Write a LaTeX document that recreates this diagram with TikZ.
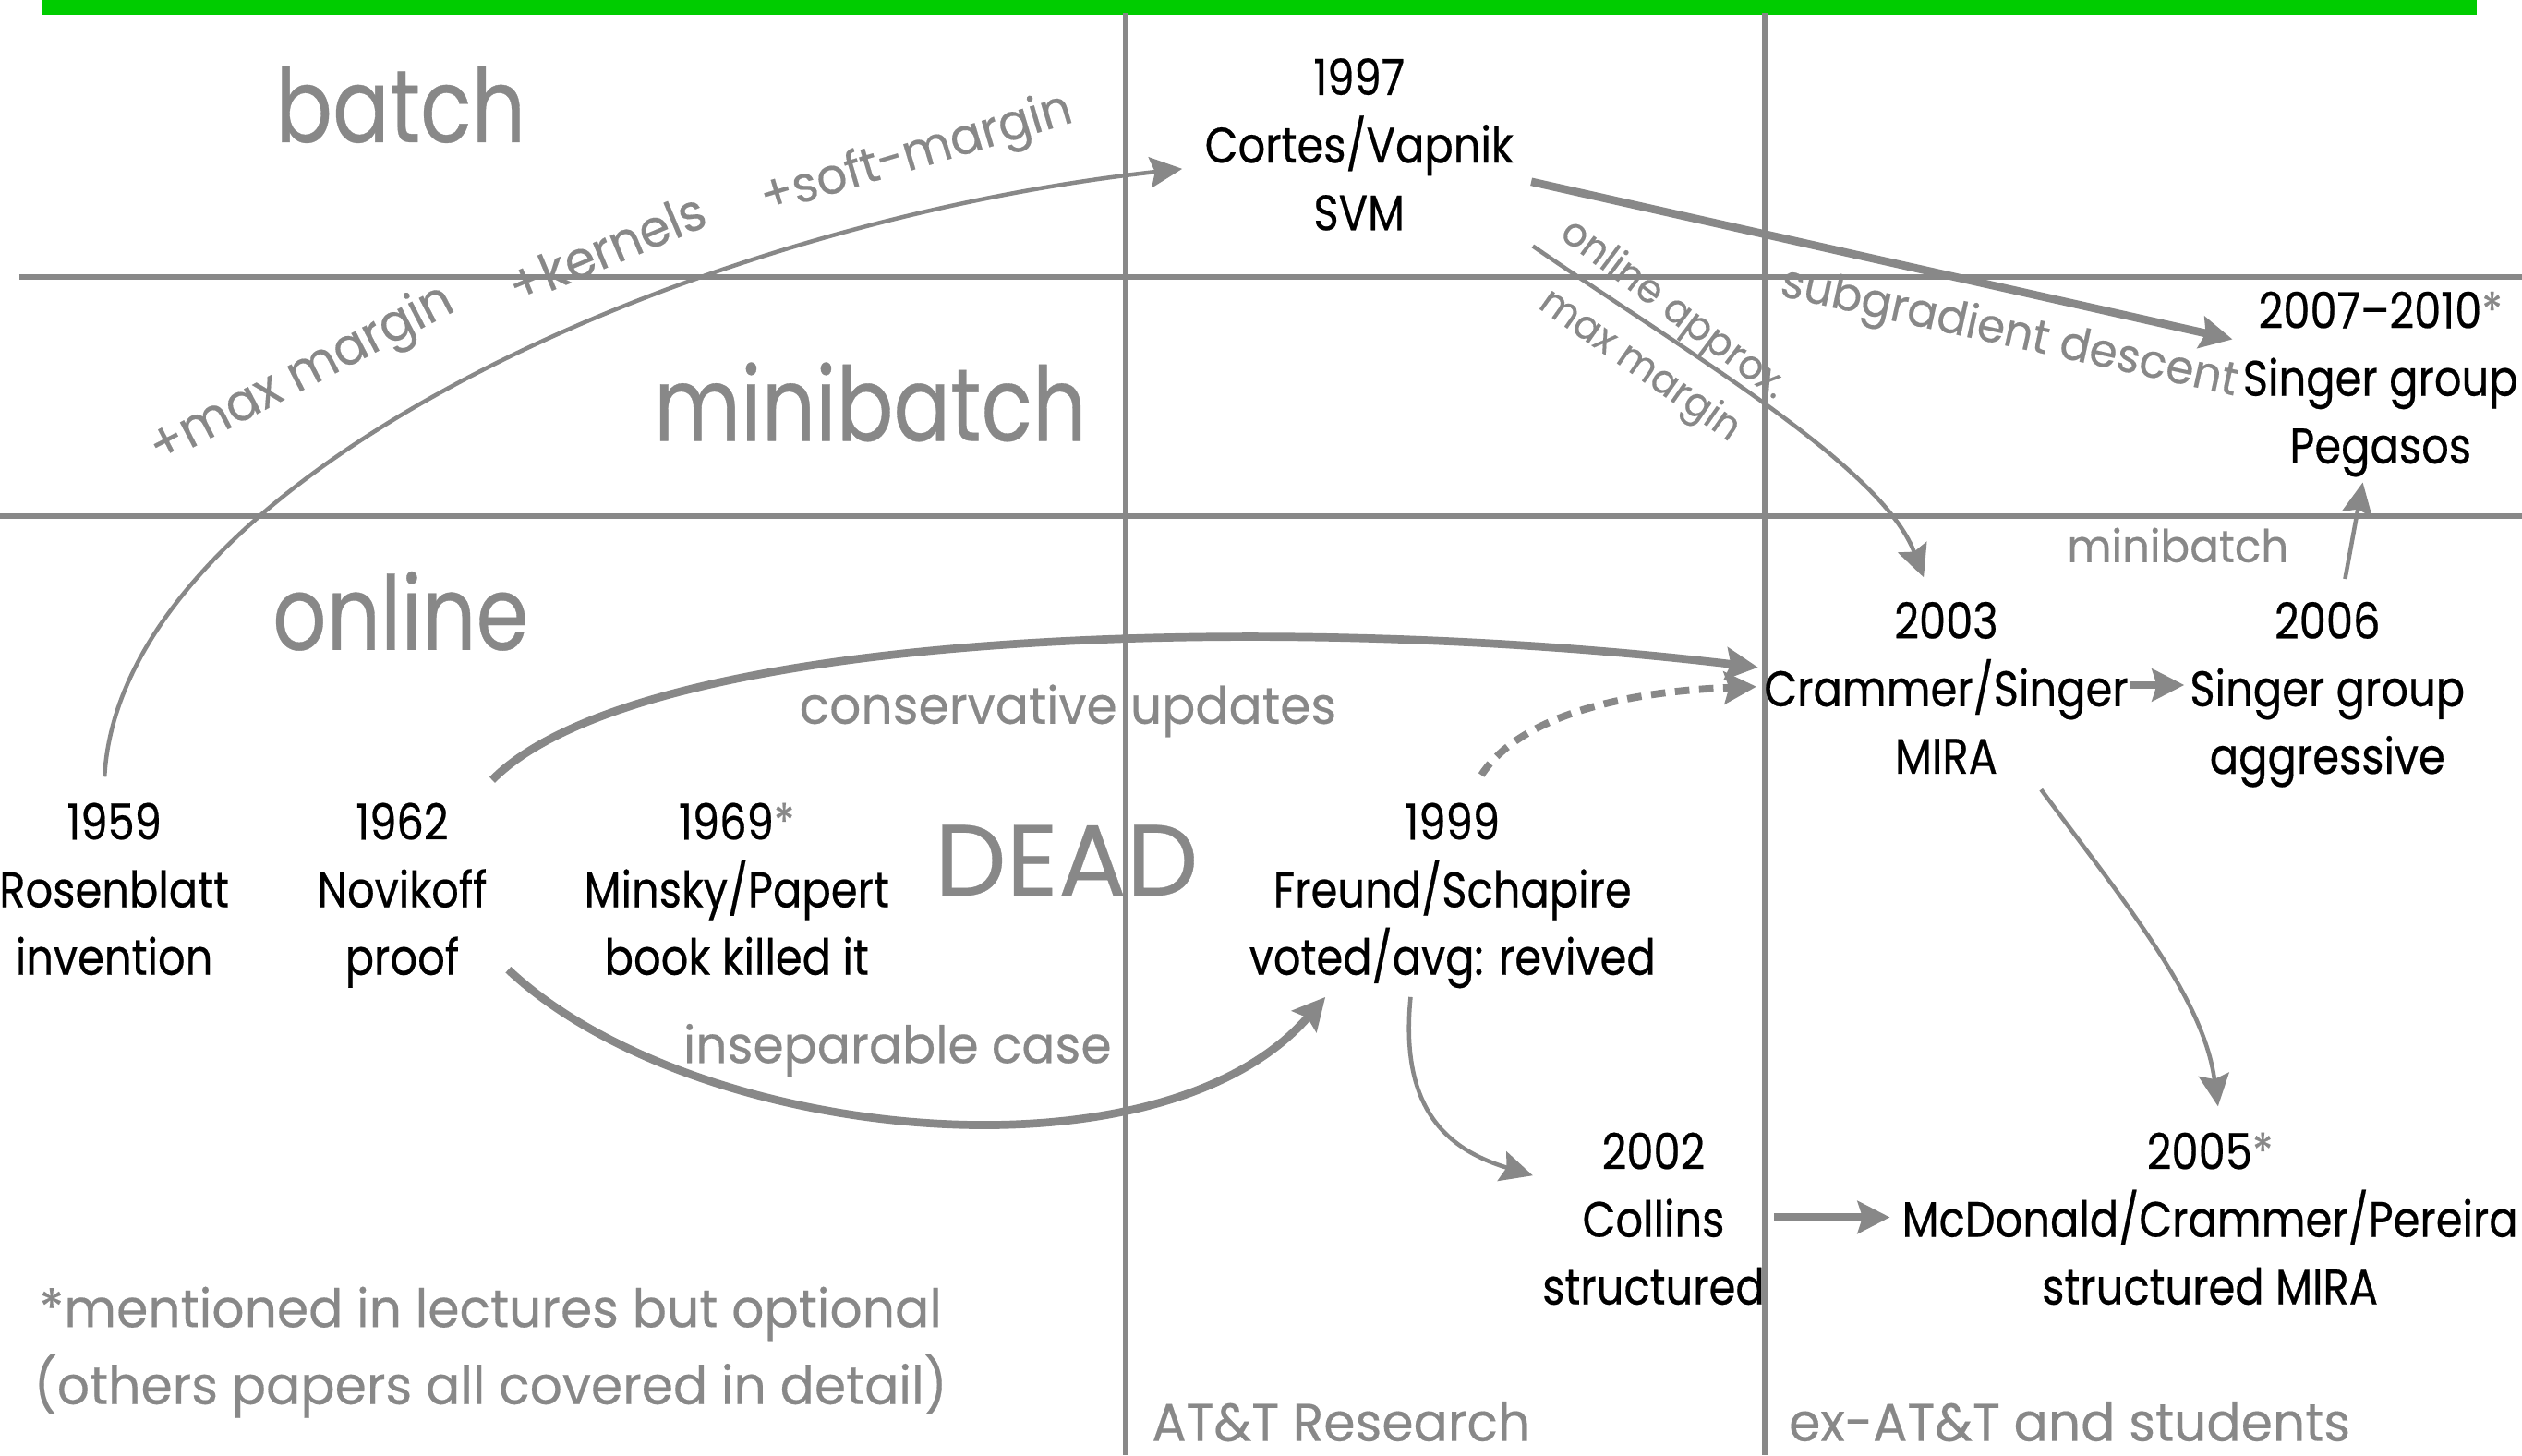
\documentclass[tikz,border=0pt]{standalone}
\usepackage{fontspec}
\setmainfont{Poppins}
\newfontfamily\evtfont[FakeStretch=0.86,FakeBold=0.4]{Poppins}
\newfontfamily\lblfont[FakeStretch=0.96,FakeBold=0.3]{Poppins}
\newfontfamily\zonefont[FakeStretch=0.82,FakeBold=0.3]{Poppins}
\newfontfamily\deadfont[FakeBold=0.3]{Poppins}
\usetikzlibrary{arrows.meta}
\definecolor{ln}{HTML}{888888}
\definecolor{topbar}{HTML}{00CC00}
\tikzset{
  evt/.style={align=center, text=black, inner sep=0pt,
    font=\evtfont\fontsize{31}{42}\selectfont,
    execute at begin node=\strut, execute at end node=\strut},
  zone/.style={text=ln, inner sep=0pt, font=\zonefont\fontsize{64}{64}\selectfont},
  lbl/.style={text=ln, inner sep=0pt, font=\lblfont\fontsize{32}{36}\selectfont},
  lblsize/.style={font=\lblfont\fontsize{#1}{#1}\selectfont},
  rule/.style={draw=ln, line width=3.5pt},
  lnk/.style={draw=ln, line width=2.6pt,
    -{Stealth[length=20pt,width=19pt,inset=3pt]}},
  lnkb/.style={draw=ln, line width=5pt,
    -{Stealth[length=20pt,width=20pt,inset=3pt]}},
}
\newcommand{\optmark}{{\color{ln}*}}
\begin{document}
\begin{tikzpicture}[x=1pt,y=-1pt]
\useasboundingbox (0,0) rectangle (1568,905);

% top band and grid
\fill[topbar] (26,0) rectangle (1540,9);
\draw[rule] (12,172) -- (1568,172);
\draw[rule] (0,321) -- (1568,321);
\draw[rule] (700,8) -- (700,905);
\draw[rule] (1097,8) -- (1097,905);

% regime and era labels
\node[zone] (zbatch) at (249,65) {batch};
\node[zone] (zmini) at (541,250) {minibatch};
\node[zone] (zonline) at (249,380) {online};
\node[zone, font=\deadfont\fontsize{63}{63}\selectfont] (zdead) at (663,535) {DEAD};
\node[lbl, lblsize=33, anchor=west] (era1) at (716,884) {AT\&T Research};
\node[lbl, lblsize=33, anchor=west] (era2) at (1112,884) {ex-AT\&T and students};
\node[lbl, lblsize=33] (foot1) at (305,817) {*mentioned in lectures but optional};
\node[lbl, lblsize=33] (foot2) at (305,862) {(others papers all covered in detail)};

% papers
\node[evt] (n1959) at (71,559) {1959\\Rosenblatt\\invention};
\node[evt] (n1962) at (250,559) {1962\\Novikoff\\proof};
\node[evt] (n1969) at (458,559) {1969\optmark\\Minsky/Papert\\book killed it};
\node[evt] (n1999) at (903,559) {1999\\Freund/Schapire\\voted/avg: revived};
\node[evt] (n1997) at (845,96) {1997\\Cortes/Vapnik\\SVM};
\node[evt] (n2003) at (1210,434) {2003\\Crammer/Singer\\MIRA};
\node[evt] (n2006) at (1447,434) {2006\\Singer group\\aggressive};
\node[evt] (n2007) at (1480,241) {2007\textendash 2010\optmark\\Singer group\\Pegasos};
\node[evt] (n2002) at (1028,764) {2002\\Collins\\structured};
\node[evt] (n2005) at (1374,764) {2005\optmark\\McDonald/Crammer/Pereira\\structured MIRA};

% connectors
\draw[lnk] ([shift={(-6,-76)}]n1959.center)
  .. controls (75,300) and (420,140) .. ([shift={(-110,9)}]n1997.center);
\draw[lnkb] ([shift={(56,-74)}]n1962.center)
  .. controls (400,390) and (800,380) .. ([shift={(-117,-19)}]n2003.center);
\draw[lnkb] ([shift={(66,44)}]n1962.center)
  .. controls (430,710) and (720,740) .. ([shift={(-79,61)}]n1999.center);
\draw[lnk] ([shift={(-26,61)}]n1999.center)
  .. controls (870,690) and (900,715) .. ([shift={(-75,-33)}]n2002.center);
\draw[lnkb, line width=4.5pt, dash pattern=on 9pt off 6pt] ([shift={(18,-77)}]n1999.center)
  .. controls (945,445) and (1010,430) .. ([shift={(-118,-7)}]n2003.center);
\draw[lnkb] ([shift={(107,17)}]n1997.center) -- ([shift={(-92,-30)}]n2007.center);
\draw[lnk] ([shift={(108,57)}]n1997.center)
  .. controls (1050,220) and (1170,290) .. ([shift={(-14,-75)}]n2003.center);
\draw[lnkb] ([shift={(114,-8)}]n2003.center) -- ([shift={(-89,-8)}]n2006.center);
\draw[lnk] ([shift={(11,-74)}]n2006.center) -- ([shift={(-11,59)}]n2007.center);
\draw[lnk] ([shift={(59,57)}]n2003.center)
  .. controls (1320,560) and (1370,620) .. ([shift={(5,-76)}]n2005.center);
\draw[lnkb] ([shift={(75,-7)}]n2002.center) -- ([shift={(-199,-7)}]n2005.center);

% connector labels
\node[lbl] (lcons) at (664,442) {conservative updates};
\node[lbl] (linsep) at (558,653) {inseparable case};
\node[lbl, lblsize=28] (lmini) at (1354,339) {minibatch};
\node[lbl, rotate=27.5] (lmax) at (188,234) {+max margin};
\node[lbl, rotate=22.7] (lker) at (377,154) {+kernels};
\node[lbl, lblsize=31, rotate=16.6] (lsoft) at (570,97) {+soft-margin};
\node[lbl, lblsize=25, rotate=-37] (lonl) at (1040,193) {online approx.};
\node[lbl, lblsize=25, rotate=-35] (lmm) at (1019,228) {max margin};
\node[lbl, lblsize=29, rotate=-12.4] (lsub) at (1249,208) {subgradient descent};
\end{tikzpicture}
\end{document}
